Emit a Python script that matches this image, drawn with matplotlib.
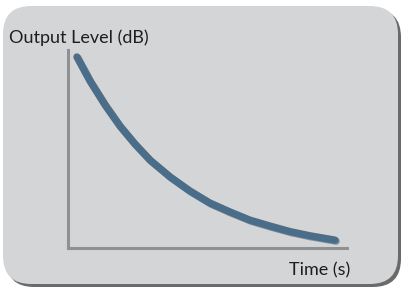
import matplotlib
matplotlib.use("Agg")
import matplotlib.pyplot as plt
from matplotlib.patches import FancyBboxPatch
import matplotlib.patheffects as pe

# decay curve (time, level) in arbitrary units, axes 0..10
time_s = [0.32, 0.79, 1.33, 1.86, 2.40, 2.94, 3.66, 4.37,
          5.09, 5.81, 6.52, 7.24, 7.96, 8.67, 9.57]
level_db = [9.65, 8.43, 7.22, 6.16, 5.25, 4.44, 3.59, 2.88,
            2.27, 1.82, 1.41, 1.11, 0.83, 0.62, 0.40]

y_label = "Output Level (dB)"
x_label = "Time (s)"

W, H = 403, 289
fig = plt.figure(figsize=(W / 100, H / 100), dpi=100)
fig.patch.set_facecolor("white")

# rounded panel with a dark shadow on the lower right
shadow = FancyBboxPatch((6 / W, 2 / H), 395 / W, 278 / H,
                        boxstyle="round,pad=0,rounding_size=0.07",
                        transform=fig.transFigure, facecolor="#6a6a6a",
                        edgecolor="none", mutation_aspect=W / H, zorder=-2)
panel = FancyBboxPatch((3 / W, 5 / H), 395 / W, 278 / H,
                       boxstyle="round,pad=0,rounding_size=0.07",
                       transform=fig.transFigure, facecolor="#d4d5d7",
                       edgecolor="none", mutation_aspect=W / H, zorder=-1)
fig.patches.extend([shadow, panel])

ax = fig.add_axes([68 / W, (H - 248) / H, (347 - 68) / W, (248 - 50) / H])
ax.set_facecolor("none")
ax.set_xlim(0, 10)
ax.set_ylim(0, 10)
for side in ["top", "right"]:
    ax.spines[side].set_visible(False)
for side in ["left", "bottom"]:
    ax.spines[side].set_color("#8f9092")
    ax.spines[side].set_linewidth(2.2)
ax.set_xticks([])
ax.set_yticks([])

ax.plot(time_s, level_db, color="#4a6d8a", linewidth=5.2,
        solid_capstyle="round", solid_joinstyle="round",
        path_effects=[pe.SimpleLineShadow(offset=(0.8, -0.8), shadow_color="#5a5a5a", alpha=0.6),
                      pe.Normal()])

fonts = ["Lato", "DejaVu Sans"]
fig.text(9 / W, 1 - 38 / H, y_label, fontsize=13, family=fonts,
         color="#1e1e1e", ha="left", va="center")
fig.text(350 / W, 1 - 270 / H, x_label, fontsize=13, family=fonts,
         color="#1e1e1e", ha="right", va="center")

fig.savefig("out.png", dpi=100)
